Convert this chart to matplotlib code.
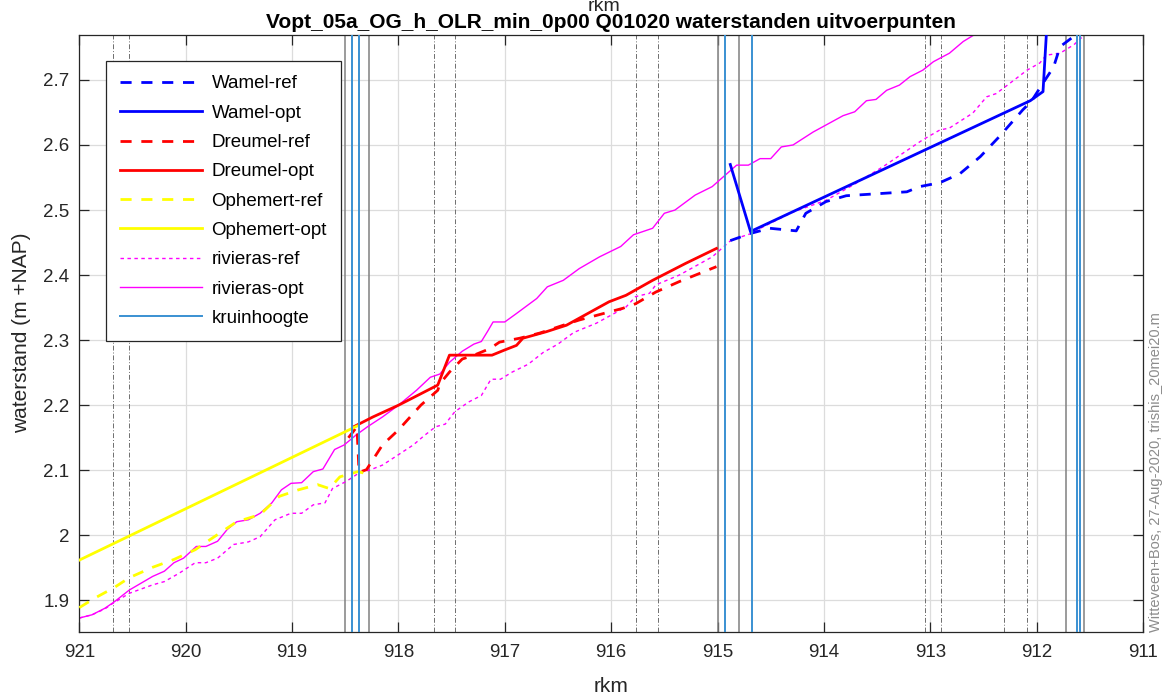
import matplotlib
matplotlib.use('Agg')
import matplotlib.pyplot as plt
from matplotlib.lines import Line2D
from matplotlib.ticker import FuncFormatter, MultipleLocator

plt.rcParams['font.family'] = ['Liberation Sans', 'DejaVu Sans']

# Ophemert (yellow)
ophemert_opt_x = [921.0, 918.39]
ophemert_opt_y = [1.962, 2.168]
ophemert_ref_x = [921.0, 920.85, 920.67, 920.53, 920.31, 920.11, 919.91, 919.73, 919.52, 919.30,
                  919.12, 918.94, 918.76, 918.65, 918.55, 918.38, 918.33]
ophemert_ref_y = [1.889, 1.904, 1.920, 1.935, 1.951, 1.963, 1.978, 1.998, 2.021, 2.032,
                  2.060, 2.070, 2.078, 2.072, 2.090, 2.098, 2.096]

# Dreumel (red)
dreumel_opt_x = [918.42, 918.24, 918.0, 917.63, 917.52, 917.12, 917.0, 916.89, 916.83, 916.61,
                 916.42, 916.02, 915.86, 915.61, 915.30, 915.01]
dreumel_opt_y = [2.167, 2.182, 2.200, 2.231, 2.277, 2.277, 2.285, 2.292, 2.303, 2.313,
                 2.323, 2.359, 2.369, 2.392, 2.418, 2.441]
dreumel_ref_x = [918.47, 918.39, 918.37, 918.30, 918.15, 918.0, 917.79, 917.63, 917.61, 917.52,
                 917.40, 917.29, 917.14, 917.05, 916.86, 916.67, 916.45, 916.30, 916.14, 915.89,
                 915.77, 915.58, 915.36, 915.01]
dreumel_ref_y = [2.150, 2.167, 2.097, 2.101, 2.139, 2.162, 2.200, 2.223, 2.233, 2.251,
                 2.271, 2.277, 2.287, 2.297, 2.303, 2.311, 2.323, 2.331, 2.338, 2.349,
                 2.356, 2.374, 2.390, 2.413]

# Wamel (blue)
wamel_opt_x = [914.88, 914.69, 912.06, 911.94, 911.88]
wamel_opt_y = [2.570, 2.467, 2.668, 2.682, 2.850]
wamel_ref_x = [914.88, 914.69, 914.51, 914.26, 914.17, 913.98, 913.79, 913.41, 913.22, 913.10,
               912.91, 912.72, 912.53, 912.35, 912.13, 912.05, 911.94, 911.84, 911.78, 911.65,
               911.59, 911.50]
wamel_ref_y = [2.453, 2.464, 2.472, 2.468, 2.495, 2.513, 2.522, 2.526, 2.528, 2.536,
               2.542, 2.556, 2.582, 2.613, 2.654, 2.667, 2.695, 2.720, 2.751, 2.767,
               2.771, 2.790]

# rivieras (magenta)
rivier_opt_x = [921.0, 920.88, 920.76, 920.67, 920.53, 920.31, 920.20, 920.11, 920.02, 919.90,
                919.81, 919.70, 919.61, 919.52, 919.41, 919.30, 919.19, 919.10, 919.01, 918.91,
                918.80, 918.71, 918.60, 918.51, 918.40, 918.29, 918.15, 918.0, 917.83, 917.70,
                917.61, 917.52, 917.40, 917.29, 917.22, 917.16, 917.11, 917.0, 916.89, 916.70,
                916.60, 916.45, 916.30, 916.11, 915.91, 915.79, 915.61, 915.50, 915.40, 915.21,
                915.05, 914.96, 914.82, 914.71, 914.60, 914.50, 914.40, 914.29, 914.10, 914.01,
                913.82, 913.71, 913.60, 913.51, 913.41, 913.29, 913.19, 913.07, 912.97, 912.82,
                912.69, 912.60, 912.52, 912.40]
rivier_opt_y = [1.873, 1.878, 1.888, 1.898, 1.916, 1.937, 1.945, 1.958, 1.965, 1.983,
                1.983, 1.991, 2.009, 2.021, 2.024, 2.034, 2.050, 2.070, 2.080, 2.081,
                2.098, 2.102, 2.132, 2.139, 2.154, 2.167, 2.182, 2.200, 2.223, 2.243,
                2.248, 2.266, 2.283, 2.294, 2.298, 2.314, 2.328, 2.328, 2.341, 2.364,
                2.382, 2.392, 2.410, 2.428, 2.444, 2.462, 2.472, 2.495, 2.500, 2.523,
                2.536, 2.549, 2.569, 2.569, 2.579, 2.579, 2.597, 2.600, 2.620, 2.628,
                2.645, 2.651, 2.668, 2.670, 2.684, 2.692, 2.705, 2.715, 2.728, 2.741,
                2.759, 2.768, 2.777, 2.790]
rivier_ref_x = [921.0, 920.88, 920.76, 920.69, 920.53, 920.31, 920.20, 920.06, 919.91, 919.81,
                919.70, 919.55, 919.41, 919.30, 919.16, 919.01, 918.91, 918.80, 918.69, 918.62,
                918.49, 918.37, 918.26, 918.15, 918.0, 917.86, 917.76, 917.65, 917.56, 917.47,
                917.34, 917.22, 917.13, 917.04, 916.93, 916.78, 916.64, 916.50, 916.35, 916.14,
                915.86, 915.77, 915.64, 915.58, 915.36, 915.05, 914.87, 914.68, 914.61, 914.29,
                913.98, 913.73, 913.44, 913.26, 913.07, 912.91, 912.82, 912.60, 912.47, 912.38,
                912.25, 912.09, 911.97, 911.91, 911.78, 911.65, 911.53, 911.45]
rivier_ref_y = [1.873, 1.878, 1.887, 1.895, 1.911, 1.924, 1.929, 1.942, 1.958, 1.958,
                1.965, 1.986, 1.990, 1.998, 2.024, 2.034, 2.034, 2.047, 2.050, 2.072,
                2.083, 2.096, 2.101, 2.108, 2.124, 2.139, 2.153, 2.167, 2.171, 2.190,
                2.205, 2.215, 2.240, 2.240, 2.251, 2.263, 2.281, 2.294, 2.312, 2.326,
                2.351, 2.367, 2.372, 2.385, 2.400, 2.428, 2.454, 2.464, 2.471, 2.497,
                2.515, 2.538, 2.567, 2.587, 2.608, 2.623, 2.626, 2.649, 2.674, 2.679,
                2.695, 2.715, 2.726, 2.738, 2.741, 2.754, 2.772, 2.790]

# vertical reference lines (rkm)
dashdot_rkm = [920.68, 920.53, 917.67, 917.47, 915.765, 915.56, 913.05, 912.90, 912.31, 912.09]
grey_rkm = [918.50, 918.28, 915.00, 914.80, 911.72, 911.55]
kruin_rkm = [918.44, 918.37, 914.93, 914.68, 911.62, 911.59]

W, H = 1170, 699
fig = plt.figure(figsize=(W / 100, H / 100), dpi=100)
ax = fig.add_axes([79.3 / W, 1 - 631.7 / H, (1143 - 79.3) / W, (631.7 - 35) / H])

for x in dashdot_rkm:
    ax.axvline(x, color='#6e6e6e', lw=0.7, dashes=(5, 2, 1, 2), zorder=1)
for x in grey_rkm:
    ax.axvline(x, color='#808080', lw=1.1, zorder=1)

thick = 2.0
ax.plot(wamel_ref_x, wamel_ref_y, color='#0000ff', lw=thick, dashes=(4, 3.5), zorder=3)
ax.plot(wamel_opt_x, wamel_opt_y, color='#0000ff', lw=thick, zorder=3)
ax.plot(dreumel_ref_x, dreumel_ref_y, color='#ff0000', lw=thick, dashes=(4, 3.5), zorder=3)
ax.plot(dreumel_opt_x, dreumel_opt_y, color='#ff0000', lw=thick, zorder=3)
ax.plot(ophemert_ref_x, ophemert_ref_y, color='#ffff00', lw=thick, dashes=(4, 3.5), zorder=3)
ax.plot(ophemert_opt_x, ophemert_opt_y, color='#ffff00', lw=thick, zorder=3)
ax.plot(rivier_ref_x, rivier_ref_y, color='#ff00ff', lw=1.0, dashes=(2.5, 2.5), zorder=2)
ax.plot(rivier_opt_x, rivier_opt_y, color='#ff00ff', lw=1.0, zorder=2)

for x in kruin_rkm:
    ax.axvline(x, color='#3a91d2', lw=1.4, zorder=4)

ax.set_xlim(921, 911)
ax.set_ylim(1.852, 2.769)
ax.xaxis.set_major_locator(MultipleLocator(1))
ax.yaxis.set_major_locator(MultipleLocator(0.1))
ax.yaxis.set_major_formatter(FuncFormatter(lambda v, p: '%g' % round(v, 2)))
ax.grid(True, color='#dcdcdc', lw=0.9, zorder=0)
ax.set_axisbelow(True)
ax.tick_params(direction='in', length=7, width=0.9, top=True, right=True,
               colors='#262626', labelsize=13.5)
ax.tick_params(axis='x', pad=9)
ax.tick_params(axis='y', pad=7)
for s in ax.spines.values():
    s.set_color('#262626')
    s.set_linewidth(0.9)

handles = [
    Line2D([], [], color='#0000ff', lw=thick, dashes=(4, 3.5)),
    Line2D([], [], color='#0000ff', lw=thick),
    Line2D([], [], color='#ff0000', lw=thick, dashes=(4, 3.5)),
    Line2D([], [], color='#ff0000', lw=thick),
    Line2D([], [], color='#ffff00', lw=thick, dashes=(4, 3.5)),
    Line2D([], [], color='#ffff00', lw=thick),
    Line2D([], [], color='#ff00ff', lw=1.0, dashes=(2.5, 2.5)),
    Line2D([], [], color='#ff00ff', lw=1.0),
    Line2D([], [], color='#3a91d2', lw=1.4),
]
labels = ['Wamel-ref', 'Wamel-opt', 'Dreumel-ref', 'Dreumel-opt', 'Ophemert-ref',
          'Ophemert-opt', 'rivieras-ref', 'rivieras-opt', 'kruinhoogte']
leg = ax.legend(handles, labels, loc='upper left', bbox_to_anchor=(0.0248, 0.956),
                borderaxespad=0, fontsize=13.5, fancybox=False, framealpha=1,
                edgecolor='#262626', handlelength=4.4, handletextpad=0.5,
                labelspacing=0.65, borderpad=0.75)
leg.get_frame().set_linewidth(0.9)
leg.set_zorder(10)

fig.text(611 / W, 1 - 28 / H, 'Vopt_05a_OG_h_OLR_min_0p00 Q01020 waterstanden uitvoerpunten',
         ha='center', va='baseline', fontsize=15, fontweight='bold', color='#000000')
fig.text(604 / W, 1 - 11 / H, 'rkm', ha='center', va='baseline', fontsize=14, color='#262626')
fig.text(611 / W, 1 - 686 / H, 'rkm', ha='center', va='center', fontsize=15, color='#262626')
fig.text(22 / W, 1 - 333 / H, 'waterstand (m +NAP)', ha='center', va='center',
         rotation=90, fontsize=15, color='#262626')
fig.text(1156 / W, 1 - 632 / H, 'Witteveen+Bos, 27-Aug-2020, trishis_20mei20.m',
         ha='center', va='bottom', rotation=90, fontsize=10.5, color='#8c8c8c')

fig.savefig('out.png', dpi=100)
